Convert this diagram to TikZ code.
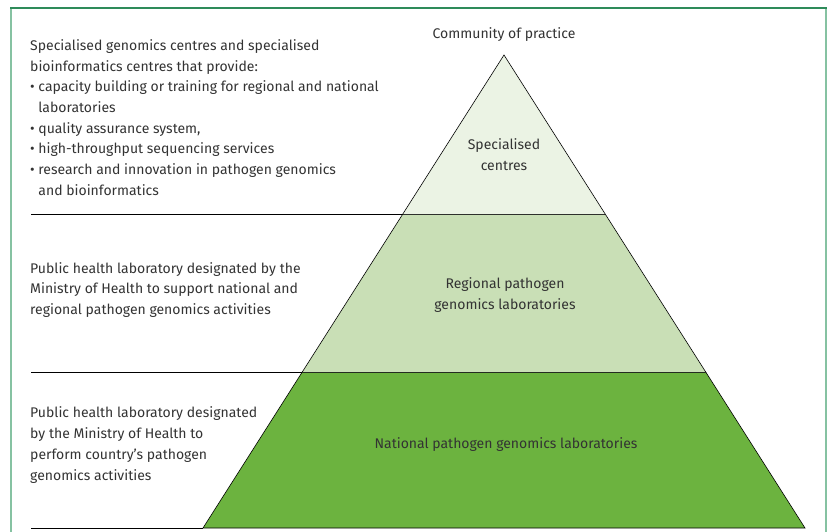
\documentclass[tikz,border=0pt]{standalone}
\usepackage{fontspec}
\setmainfont{Fira Sans}
\usetikzlibrary{calc}
\definecolor{framegreen}{HTML}{86C2A2}
\definecolor{framedark}{HTML}{2E8B5A}
\definecolor{tierone}{HTML}{EBF3E4}
\definecolor{tiertwo}{HTML}{C9DFB6}
\definecolor{tierthree}{HTML}{6CB33F}
\definecolor{txt}{HTML}{333333}
\tikzset{
  labfont/.style={font=\fontsize{14}{20.7}\selectfont},
  tiertext/.style={labfont,text=txt,align=center},
  sidetext/.style={labfont,text=txt,align=left,anchor=west,inner sep=0pt},
  tier/.style={draw=black,line width=0.6pt},
  sep/.style={draw=black,line width=0.8pt},
}
\newcommand{\ind}{\phantom{\textbullet\ }}
\begin{document}
\begin{tikzpicture}[x=1pt,y=-1pt]
\useasboundingbox (0,0) rectangle (830,532);
% frame
\draw[framegreen,line width=2pt] (11,532) -- (11,8);
\draw[framegreen,line width=2pt] (826,8) -- (826,532);
\draw[framedark,line width=1.5pt] (10,8) -- (827,8);
% pyramid corners
\coordinate (apex) at (504,55);
\coordinate (bl) at (203,528);
\coordinate (br) at (805,528);
\coordinate (s1l) at ($(apex)!0.337!(bl)$);
\coordinate (s1r) at ($(apex)!0.337!(br)$);
\coordinate (s2l) at ($(apex)!0.671!(bl)$);
\coordinate (s2r) at ($(apex)!0.671!(br)$);
% tiers
\path[tier,fill=tierthree] (s2l) -- (s2r) -- (br) -- (bl) -- cycle;
\path[tier,fill=tiertwo] (s1l) -- (s1r) -- (s2r) -- (s2l) -- cycle;
\path[tier,fill=tierone] (apex) -- (s1r) -- (s1l) -- cycle;
% separators
\coordinate (l1) at (31,0 |- s1l);
\coordinate (l2) at (31,0 |- s2l);
\coordinate (l3) at (31,0 |- bl);
\draw[sep] (l1) -- (s1l);
\draw[sep] (l2) -- (s2l);
\draw[sep] (l3) -- (bl);
% labels
\node[tiertext] (cop) at (504,35) {Community of practice};
\node[tiertext] (spec) at (504,154.5) {Specialised\\centres};
\node[tiertext] (reg) at (505,295) {Regional pathogen\\genomics laboratories};
\node[tiertext] (nat) at (506,445) {National pathogen genomics laboratories};
\node[sidetext] (specinfo) at (30,117.5) {Specialised genomics centres and specialised\\
bioinformatics centres that provide:\\
\textbullet\ capacity building or training for regional and national\\
\ind laboratories\\
\textbullet\ quality assurance system,\\
\textbullet\ high-throughput sequencing services\\
\textbullet\ research and innovation in pathogen genomics\\
\ind and bioinformatics};
\node[sidetext] (reginfo) at (30,290) {Public health laboratory designated by the\\
Ministry of Health to support national and\\
regional pathogen genomics activities};
\node[sidetext] (natinfo) at (30,445) {Public health laboratory designated\\
by the Ministry of Health to\\
perform country’s pathogen\\
genomics activities};
\end{tikzpicture}
\end{document}
